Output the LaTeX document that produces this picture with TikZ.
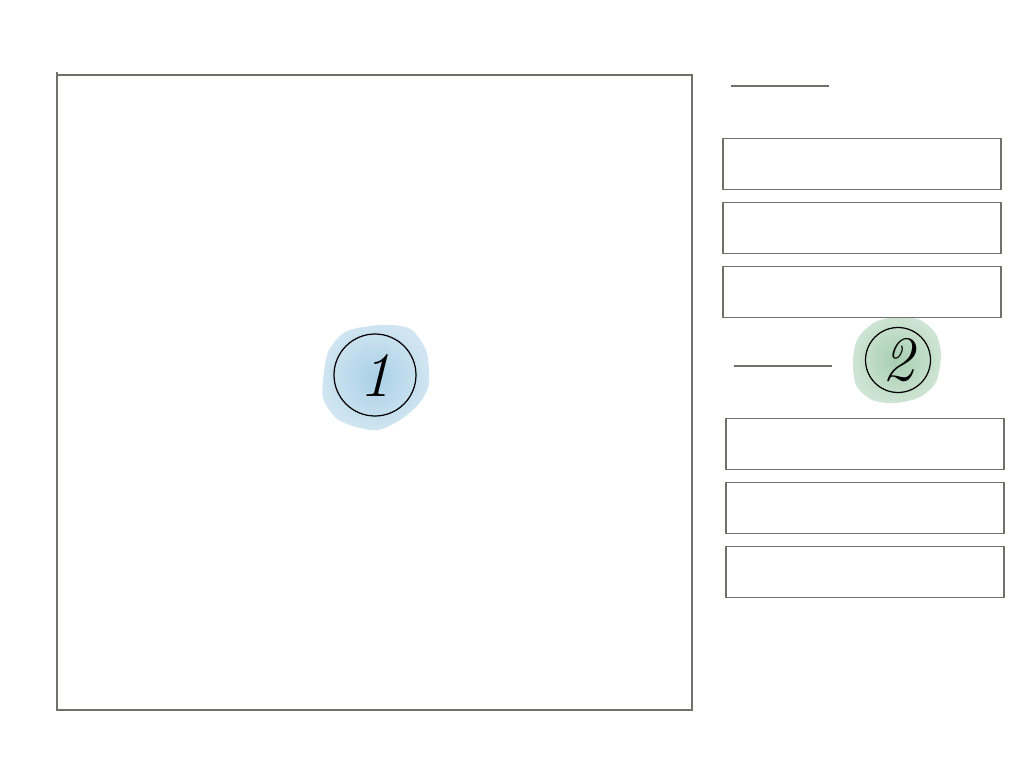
\documentclass[tikz,border=0pt]{standalone}
\usetikzlibrary{positioning}
\definecolor{edge}{RGB}{112,112,108}
\definecolor{wash1}{RGB}{170,208,230}
\definecolor{wash2}{RGB}{166,206,176}
\tikzset{
  panel/.style={draw=edge,line width=0.9pt,rectangle,minimum width=5.56cm,minimum height=1.02cm,inner sep=0pt},
  badge/.style={draw=black,line width=0.7pt,circle,inner sep=0pt,font=\fontsize{36}{36}\selectfont\itshape},
  rule/.style={draw=edge,line width=0.9pt}
}
\begin{document}
\begin{tikzpicture}[x=0.02cm,y=-0.02cm]
\useasboundingbox (0,0) rectangle (1024,768);
% drawing area
\draw[edge,line width=0.9pt] (57,72) -- (57,710) -- (692,710) -- (692,75) -- (57,75);
% watercolour washes
\shade[inner color=wash1,outer color=wash1!55] plot[smooth cycle,tension=0.5] coordinates {(429,372) (426,350) (412,330) (392,325) (370,326) (345,332) (329,350) (324,372) (323,398) (336,418) (356,427) (378,430) (400,420) (418,405) (428,388)};
\shade[inner color=wash2,outer color=wash2!55] plot[smooth cycle,tension=0.5] coordinates {(941,355) (936,334) (920,320) (898,317) (875,322) (858,338) (853,360) (856,385) (872,400) (896,403) (920,397) (936,382)};
% circles
\node[badge,minimum size=1.64cm] (one) at (375,375) {1};
\node[badge,minimum size=1.30cm] (two) at (898,360) {2};
% right column
\coordinate (h1a) at (731,86);
\coordinate (h1b) at (829,86);
\draw[rule] (h1a) -- (h1b);
\node[panel] (p1) at (862,164) {};
\node[panel] (p2) at (862,228) {};
\node[panel] (p3) at (862,292) {};
\coordinate (h2a) at (734,366);
\coordinate (h2b) at (832,366);
\draw[rule] (h2a) -- (h2b);
\node[panel] (p4) at (865,444) {};
\node[panel] (p5) at (865,508) {};
\node[panel] (p6) at (865,572) {};
\end{tikzpicture}
\end{document}
